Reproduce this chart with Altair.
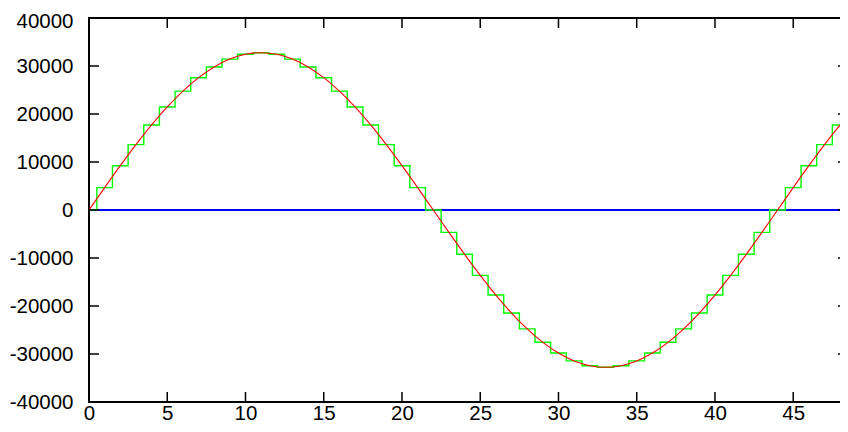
import altair as alt
import pandas as pd

n_values = list(range(0, 50))
samples = [0, 4663, 9231, 13612, 17715, 21459, 24763, 27567, 29806, 31440,
           32433, 32767, 32433, 31440, 29806, 27567, 24763, 21459, 17715, 13612,
           9231, 4663, 0, -4663, -9231, -13612, -17715, -21459, -24763, -27567,
           -29806, -31440, -32433, -32767, -32433, -31440, -29806, -27567, -24763, -21459,
           -17715, -13612, -9231, -4663, 0, 4663, 9231, 13612, 17715, 21459]
x_ticks = [0, 5, 10, 15, 20, 25, 30, 35, 40, 45]
y_ticks = [-40000, -30000, -20000, -10000, 0, 10000, 20000, 30000, 40000]

W, H = 759, 384
TL = 10

df = pd.DataFrame({"n": n_values, "v": samples})
xt = pd.DataFrame({"t": x_ticks})
yt = pd.DataFrame({"t": y_ticks})

xscale = alt.Scale(domain=[0, 48.5], nice=False, zero=False)
yscale = alt.Scale(domain=[-40000, 40000], nice=False)

font = "Liberation Sans"
xaxis = alt.Axis(values=x_ticks, ticks=False, domain=False, grid=False, title=None,
                 labelFontSize=20.5, labelFont=font, labelColor="black", labelPadding=1,
                 labelFlush=False)
yaxis = alt.Axis(values=y_ticks, ticks=False, domain=False, grid=False, title=None,
                 labelFontSize=20.5, labelFont=font, labelColor="black", labelPadding=16,
                 labelExpr="datum.value + ''",
                 labelOffset={"condition": {"test": "datum.value == 40000", "value": 3}, "value": 0})

base = alt.Chart(df)

zero_line = base.mark_rule(color="#0000ff", strokeWidth=1).encode(
    y=alt.datum(0, scale=yscale, axis=yaxis)
)

steps = base.mark_line(interpolate="step", color="#00ff00", strokeWidth=1.4, clip=True).encode(
    x=alt.X("n:Q", scale=xscale, axis=xaxis),
    y=alt.Y("v:Q", scale=yscale, axis=yaxis),
)

curve = base.mark_line(interpolate="monotone", color="#ff0000", strokeWidth=1.1, clip=True).encode(
    x=alt.X("n:Q", scale=xscale, axis=xaxis),
    y=alt.Y("v:Q", scale=yscale, axis=yaxis),
)

bt = alt.Chart(xt).mark_rule(color="black", strokeWidth=1.5).encode(
    x=alt.X("t:Q", scale=xscale, axis=xaxis), y=alt.value(H), y2=alt.value(H - TL))
tt = alt.Chart(xt).mark_rule(color="black", strokeWidth=1.5).encode(
    x=alt.X("t:Q", scale=xscale, axis=xaxis), y=alt.value(0), y2=alt.value(TL))
lt = alt.Chart(yt).mark_rule(color="black", strokeWidth=1.5).encode(
    y=alt.Y("t:Q", scale=yscale, axis=yaxis), x=alt.value(0), x2=alt.value(TL))
rt = alt.Chart(yt).mark_rule(color="black", strokeWidth=1.5).encode(
    y=alt.Y("t:Q", scale=yscale, axis=yaxis), x=alt.value(W), x2=alt.value(W - TL))

chart = alt.layer(zero_line, steps, curve, bt, tt, lt, rt).properties(
    width=W, height=H,
    autosize=alt.AutoSizeParams(type="none"),
    padding={"left": 81, "top": 10, "right": -8, "bottom": 22},
    background="white",
).configure_view(stroke="black", strokeWidth=2)

chart.save("out.html", embed_options={"renderer": "svg", "actions": False})
